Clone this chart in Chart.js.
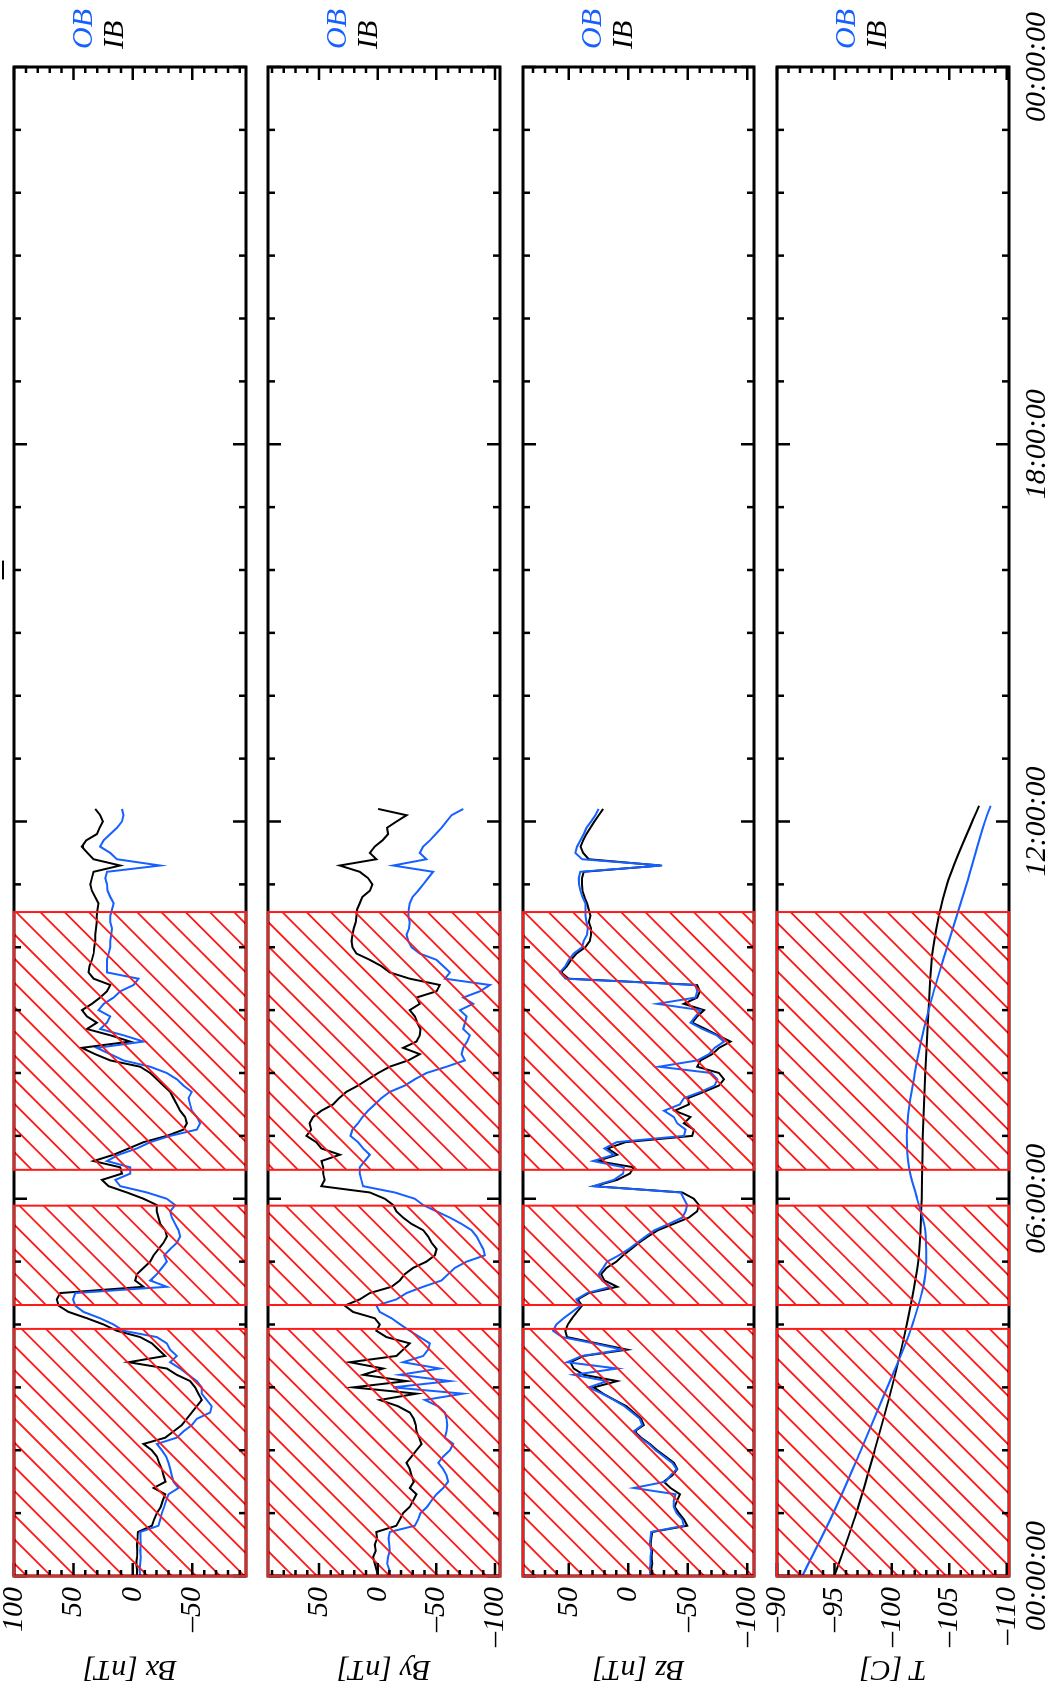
<!DOCTYPE html>
<html>
<head>
<meta charset="utf-8">
<script src="https://cdn.jsdelivr.net/npm/chart.js@4.4.1/dist/chart.umd.min.js"></script>
<style>
    html, body { margin: 0; padding: 0; background: #fff; overflow: hidden; }
    body { width: 1057px; height: 1699px; position: relative; }
    /* the figure is laid out landscape and turned a quarter turn counter-clockwise */
    #fig { position: absolute; left: 0; top: 0; width: 1699px; height: 1057px;
           transform-origin: 0 0; transform: translateY(1699px) rotate(-90deg); }
    #fig canvas { position: absolute; left: 0; }
</style>
</head>
<body>
<div id="fig"></div>
<script>
// time grid (hours after 00:00) shared by the magnetometer series
const hours = Array.from({ length: 123 }, (_, i) => i / 10);

const bxIB = [-3.4, -3.4, -2.8, -3.4, -3.6, -3.4, -3.9, -4.2, -16.0, -17.9, -20.2, -23.5, -25.2, -27.2, -17.4, -27.5, -25.8, -24.4, -22.1, -20.2,
    -16.0, -9.0, -27.2, -34.2, -41.2, -45.4, -49.6, -53.8, -58.0, -55.2, -52.4, -48.2, -37.0, -28.6, 3.6, -27.2, -21.6, -16.0, -6.2, 13.4,
    24.6, 38.7, 54.1, 62.5, 63.9, 61.1, -9.0, -2.0, -3.4, -9.0, -14.6, -17.4, -21.6, -25.8, -28.6, -27.2, -23.0, -21.6, -20.2, -20.2,
    -9.0, 5.0, 20.4, 26.0, 9.2, 10.6, 33.0, 16.2, 3.6, -9.0, -28.6, -42.6, -45.4, -44.0, -39.8, -37.0, -34.2, -31.4, -25.8, -20.2,
    -14.6, -6.2, 19.0, 31.7, 42.9, 2.2, 19.0, 38.7, 30.3, 38.7, 42.9, 34.5, 27.5, 21.8, 19.0, 33.0, 37.3, 36.4, 34.5, 33.0,
    32.5, 31.7, 31.7, 31.1, 30.3, 30.3, 29.7, 28.9, 31.7, 34.5, 35.9, 34.5, 33.0, 10.6, 33.0, 38.1, 42.9, 39.2, 30.3, 28.0,
    25.2, 27.5, 31.7];
const bxOB = [-6.2, -5.6, -6.2, -6.7, -6.2, -6.7, -6.4, -6.2, -21.6, -23.0, -24.4, -26.3, -28.0, -30.0, -38.4, -34.2, -32.8, -31.4, -30.0, -28.0,
    -24.4, -20.2, -37.0, -42.6, -49.6, -53.8, -65.0, -66.4, -62.2, -58.0, -58.0, -53.8, -46.8, -39.8, -31.4, -37.0, -31.4, -28.6, -20.2, 7.8,
    16.2, 27.5, 41.5, 48.5, 50.4, 48.5, -28.6, -14.6, -20.2, -24.4, -28.6, -26.3, -31.4, -37.0, -39.8, -38.4, -35.6, -32.8, -31.4, -35.6,
    -28.6, -11.8, 10.6, 14.8, 2.2, 2.2, 21.8, 12.0, -3.4, -14.6, -31.4, -53.8, -56.6, -53.8, -49.6, -48.2, -46.8, -49.6, -42.6, -37.0,
    -28.6, -14.6, 7.8, 19.0, 30.3, -9.0, 7.8, 27.5, 21.8, 19.0, 28.9, 24.6, 16.2, 10.6, -0.6, -4.8, 21.8, 21.8, 21.8, 20.4,
    19.0, 19.0, 18.2, 17.6, 19.0, 19.0, 17.6, 16.2, 19.0, 21.3, 21.8, 23.2, 21.8, -23.0, 13.4, 19.0, 27.5, 24.6, 19.0, 13.4,
    9.2, 7.8, 9.2];

const byIB = [-0.4, 1.1, 2.5, 3.9, 1.6, 2.5, 0.5, 1.1, -16.0, -18.9, -21.7, -27.4, -30.2, -33.1, -27.4, -30.8, -28.8, -27.4, -24.6, -28.8,
    -33.1, -37.4, -35.4, -33.1, -32.5, -30.8, -27.4, -17.4, -1.8, -33.1, 21.0, -24.6, 12.4, -4.6, 23.8, -16.0, -21.7, -27.4, -7.5, 1.1,
    -1.8, 2.5, 21.0, 28.1, 15.3, 6.7, -11.8, -18.9, -23.1, -30.2, -41.6, -48.7, -50.2, -45.9, -43.0, -38.8, -28.8, -21.7, -16.0, -13.2,
    -6.1, 6.7, 48.0, 45.2, 46.5, 46.5, 48.0, 32.3, 48.0, 52.3, 60.8, 56.6, 58.0, 55.1, 48.0, 38.0, 32.9, 26.7, 16.7, 8.2,
    -0.4, -10.3, -26.0, -35.9, -21.7, -33.1, -35.9, -36.5, -33.7, -31.7, -27.4, -35.9, -33.1, -50.2, -53.0, -27.4, -10.3, -3.2, 6.7, 18.1,
    21.5, 22.4, 21.5, 20.4, 18.7, 18.1, 17.6, 15.3, 13.0, 6.7, 4.5, 8.2, 15.3, 32.4, 1.1, 6.7, 2.5, -4.1, -8.9, -8.0,
    -16.0, -24.6, -0.4];
const byOB = [-8.9, -9.8, -8.1, -8.9, -10.3, -9.8, -9.2, -10.3, -31.7, -34.5, -36.5, -42.2, -45.9, -50.2, -55.9, -60.1, -58.7, -55.9, -51.6, -55.9,
    -61.6, -64.4, -57.3, -58.7, -59.3, -58.7, -57.3, -51.6, -40.2, -72.9, -13.2, -61.6, -18.9, -53.0, -21.7, -38.8, -43.0, -44.5, -35.9, -27.4,
    -19.4, -11.8, -1.8, 1.1, -16.0, -24.6, -38.8, -54.4, -60.1, -65.8, -75.8, -91.4, -90.0, -87.2, -84.3, -80.0, -71.5, -61.6, -50.2, -38.8,
    -31.7, -14.6, 12.4, 13.9, 15.3, 15.3, 11.0, 6.7, 12.4, 16.7, 23.2, 21.5, 16.7, 13.0, 8.2, 2.5, -3.2, -10.3, -23.1, -31.7,
    -41.6, -58.7, -74.4, -71.5, -72.9, -76.3, -78.6, -72.9, -74.4, -75.8, -70.1, -81.5, -72.9, -87.2, -95.7, -57.3, -61.6, -55.9, -50.2, -35.9,
    -28.8, -26.0, -24.6, -26.8, -27.4, -26.0, -26.6, -27.4, -29.7, -34.5, -38.8, -43.0, -47.3, -13.2, -41.6, -35.9, -38.8, -44.5, -49.6, -54.4,
    -58.7, -63.0, -72.9];

const bzIB = [-20.1, -19.3, -20.1, -19.5, -20.1, -18.7, -19.3, -20.1, -49.5, -46.7, -42.5, -38.9, -41.1, -43.4, -35.5, -29.9, -36.9, -41.1, -38.3, -31.3,
    -24.3, -18.1, -10.8, -5.2, -13.1, -10.8, -4.7, 1.5, 11.6, 21.1, 29.0, 9.3, 37.4, 45.8, 48.6, 37.4, 0.9, 26.2, 51.4, 52.8,
    50.8, 47.2, 43.0, 38.8, 42.4, 33.2, 9.3, 20.0, 22.8, 18.3, 9.9, 4.3, -2.4, -8.9, -16.5, -24.9, -37.8, -50.9, -57.9, -59.4,
    -55.1, -45.3, 28.4, 9.3, -1.3, -4.7, 26.2, 9.3, 17.2, 2.3, -53.7, -55.1, -46.7, -52.3, -38.9, -50.9, -50.1, -63.6, -76.2, -80.4,
    -76.2, -57.9, -60.7, -70.5, -76.2, -86.0, -75.3, -64.9, -53.7, -57.9, -63.6, -46.7, -57.9, -60.2, -57.9, 50.0, 56.4, 51.4, 48.0, 43.5,
    36.0, 32.3, 31.2, 31.2, 33.2, 31.8, 33.2, 34.6, 36.8, 38.5, 38.8, 38.8, 37.4, -27.1, 33.2, 37.9, 40.1, 37.9, 35.1, 31.8,
    28.4, 24.8, 21.1];
const bzOB = [-18.7, -18.1, -18.7, -18.7, -19.3, -18.1, -18.7, -19.3, -46.7, -45.3, -40.6, -38.3, -38.3, -39.7, -4.7, -31.3, -35.5, -40.6, -36.9, -29.9,
    -22.9, -17.3, -9.7, -4.7, -11.7, -9.7, -3.3, 3.2, 12.1, 22.0, 33.2, 17.7, 45.8, 9.3, 51.4, 38.8, 5.1, 29.0, 55.6, 63.2,
    60.4, 54.2, 47.2, 40.2, 43.5, 34.6, 14.9, 22.0, 24.8, 21.1, 17.7, 7.9, -0.5, -7.5, -14.5, -22.1, -34.1, -45.3, -48.1, -49.5,
    -46.7, -43.9, 29.5, 12.1, 4.3, 3.7, 29.5, 12.1, 20.0, 9.9, -46.7, -48.1, -41.1, -38.3, -29.9, -43.4, -46.7, -60.7, -72.5, -74.8,
    -69.7, -25.7, -57.9, -67.7, -72.5, -80.4, -74.2, -62.2, -52.3, -56.5, -60.7, -24.3, -56.5, -57.9, -56.5, 52.8, 57.5, 52.8, 50.0, 45.8,
    38.8, 37.4, 34.6, 34.0, 35.1, 36.0, 36.0, 36.0, 38.5, 40.2, 41.3, 41.6, 40.2, -28.5, 38.8, 44.4, 43.0, 40.2, 37.4, 35.1,
    31.2, 27.6, 24.8];

// temperature is smooth, read at fewer times
const hoursT = [0, 1, 2, 3, 4, 5, 5.5, 6, 6.5, 7, 8, 9, 10, 11, 12, 12.25];
const tIB = [-95.0, -96.9, -98.5, -100.0, -101.3, -102.3, -102.5, -102.6, -102.65, -102.7, -102.9, -103.2, -103.6, -104.8, -107.0, -107.6];
const tOB = [-92.2, -94.9, -97.3, -99.6, -101.8, -103.0, -102.9, -102.2, -101.5, -101.3, -102.0, -103.2, -104.8, -106.5, -108.1, -108.6];

// hatched intervals [start, end] in hours
const shadeSpans = [[0, 3.93], [4.31, 5.89], [6.46, 10.56]];

const timeTicks = [0, 6, 12, 18, 24];
const timeLabels = ['00:00:00', '06:00:00', '12:00:00', '18:00:00', '00:00:00'];

const bxTicks = [100, 50, 0, -50];
const byTicks = [50, 0, -50, -100];
const bzTicks = [50, 0, -50, -100];
const tTicks = [-90, -95, -100, -105, -110];

const BLUE = '#1560ff';
const RED = '#ff1a1a';

Chart.defaults.font.family = "'Liberation Serif', 'DejaVu Serif', serif";
Chart.defaults.font.style = 'italic';
Chart.defaults.font.size = 30;
Chart.defaults.color = '#000';

const panels = [
    { title: 'Bx [nT]', x: hours, ib: bxIB, ob: bxOB, min: -95.2, max: 100, labels: bxTicks, minor: 10, major: 50, top: 14, bottom: 246, mark: true },
    { title: 'By [nT]', x: hours, ib: byIB, ob: byOB, min: -104.3, max: 93.5, labels: byTicks, minor: 10, major: 50, top: 268, bottom: 500 },
    { title: 'Bz [nT]', x: hours, ib: bzIB, ob: bzOB, min: -105.6, max: 88.4, labels: bzTicks, minor: 10, major: 50, top: 523, bottom: 754 },
    { title: 'T [C]', x: hoursT, ib: tIB, ob: tOB, min: -110.2, max: -90, labels: tTicks, minor: 1, major: 5, top: 777, bottom: 1009, smooth: true }
];

const PAD = 32;   // room kept above/below each panel for half-height tick labels

function fmt(v) {
    return v < 0 ? '\u2013' + (-v) : String(v);
}

function pts(xs, ys) {
    return xs.map((x, i) => ({ x, y: ys[i] }));
}

// hatch, frame with inward ticks, OB/IB labels
const decor = {
    id: 'decor',
    afterDatasetsDraw(chart, args, opts) {
        const { ctx, chartArea: a, scales: { x, y } } = chart;
        const gap = 24.2;
        const phase = ((4.5 - opts.offsetY) % gap + gap) % gap;

        ctx.save();
        ctx.strokeStyle = RED;
        ctx.lineWidth = 1.8;
        for (const [t0, t1] of shadeSpans) {
            const x0 = x.getPixelForValue(t0), x1 = x.getPixelForValue(t1);
            ctx.save();
            ctx.beginPath();
            ctx.rect(x0, a.top, x1 - x0, a.bottom - a.top);
            ctx.clip();
            ctx.beginPath();
            const sMin = x0 + a.top, sMax = x1 + a.bottom;
            for (let s = Math.ceil((sMin - phase) / gap) * gap + phase; s <= sMax; s += gap) {
                ctx.moveTo(s - a.top, a.top);
                ctx.lineTo(s - a.bottom, a.bottom);
            }
            ctx.stroke();
            ctx.restore();
        }
        ctx.restore();

        // frame
        ctx.save();
        ctx.strokeStyle = '#000';
        ctx.lineWidth = 3;
        ctx.strokeRect(a.left, a.top, a.right - a.left, a.bottom - a.top);
        ctx.lineWidth = 2.5;
        ctx.beginPath();
        for (let h = 0; h <= 24; h++) {
            const px = x.getPixelForValue(h);
            const len = h % 6 === 0 ? 13 : 7;
            ctx.moveTo(px, a.bottom); ctx.lineTo(px, a.bottom - len);
            ctx.moveTo(px, a.top); ctx.lineTo(px, a.top + len);
        }
        const step = opts.minor;
        for (let v = Math.ceil(opts.min / step) * step; v <= opts.max + 1e-6; v += step) {
            const py = y.getPixelForValue(v);
            const len = Math.abs(Math.round(v) % opts.major) === 0 ? 13 : 6;
            ctx.moveTo(a.left, py); ctx.lineTo(a.left + len, py);
            ctx.moveTo(a.right, py); ctx.lineTo(a.right - len, py);
        }
        ctx.stroke();

        if (opts.mark) {
            ctx.lineWidth = 2;
            ctx.beginPath();
            ctx.moveTo(x.getPixelForValue(15.85), a.top - 11);
            ctx.lineTo(x.getPixelForValue(16.15), a.top - 11);
            ctx.stroke();
        }
        ctx.restore();

        // red outlines of the hatched spans
        ctx.save();
        ctx.strokeStyle = RED;
        ctx.lineWidth = 2;
        for (const [t0, t1] of shadeSpans) {
            const x0 = x.getPixelForValue(t0), x1 = x.getPixelForValue(t1);
            ctx.strokeRect(x0, a.top, x1 - x0, a.bottom - a.top);
        }
        ctx.restore();

        // series names
        ctx.save();
        ctx.font = "italic 30px 'Liberation Serif', serif";
        ctx.textAlign = 'left';
        ctx.textBaseline = 'middle';
        ctx.fillStyle = BLUE;
        ctx.fillText('OB', a.right + 18, a.top + 70);
        ctx.fillStyle = '#000';
        ctx.fillText('IB', a.right + 18, a.top + 101);
        ctx.restore();
    }
};

const fig = document.getElementById('fig');

panels.forEach((p, i) => {
    const last = i === panels.length - 1;
    const top = p.top - PAD;
    const h = last ? 1057 - top : p.bottom + PAD - top;
    const cv = document.createElement('canvas');
    cv.width = 1699;
    cv.height = h;
    cv.style.top = top + 'px';
    fig.appendChild(cv);

    const lineOpts = {
        pointRadius: 0,
        borderWidth: 2,
        fill: false,
        tension: p.smooth ? 0.4 : 0,
        cubicInterpolationMode: p.smooth ? 'monotone' : 'default'
    };

    new Chart(cv, {
        type: 'line',
        data: {
            datasets: [
                { label: 'OB', data: pts(p.x, p.ob), borderColor: BLUE, ...lineOpts },
                { label: 'IB', data: pts(p.x, p.ib), borderColor: '#000', ...lineOpts }
            ]
        },
        options: {
            responsive: false,
            animation: false,
            devicePixelRatio: 1,
            layout: { padding: { top: PAD, right: 67, bottom: last ? 0 : PAD, left: 0 } },
            plugins: {
                legend: { display: false },
                tooltip: { enabled: false },
                decor: { offsetY: top, min: p.min, max: p.max, minor: p.minor, major: p.major, mark: !!p.mark }
            },
            scales: {
                x: {
                    type: 'linear',
                    min: 0,
                    max: 24,
                    display: last,
                    grid: { display: false, drawTicks: false },
                    border: { display: false },
                    afterBuildTicks: s => { s.ticks = timeTicks.map(v => ({ value: v })); },
                    afterFit: s => { s.height = last ? 1057 - p.bottom : 0; },
                    ticks: {
                        padding: 10,
                        maxRotation: 0,
                        autoSkip: false,
                        callback: v => timeLabels[timeTicks.indexOf(v)]
                    }
                },
                y: {
                    min: p.min,
                    max: p.max,
                    grid: { display: false, drawTicks: false },
                    border: { display: false },
                    afterBuildTicks: s => { s.ticks = p.labels.map(v => ({ value: v })); },
                    afterFit: s => { s.width = 123; },
                    ticks: { padding: 11, autoSkip: false, callback: v => fmt(v) },
                    title: { display: true, text: p.title, padding: { top: 12, bottom: 0 } }
                }
            }
        },
        plugins: [decor]
    });
});
</script>
</body>
</html>
